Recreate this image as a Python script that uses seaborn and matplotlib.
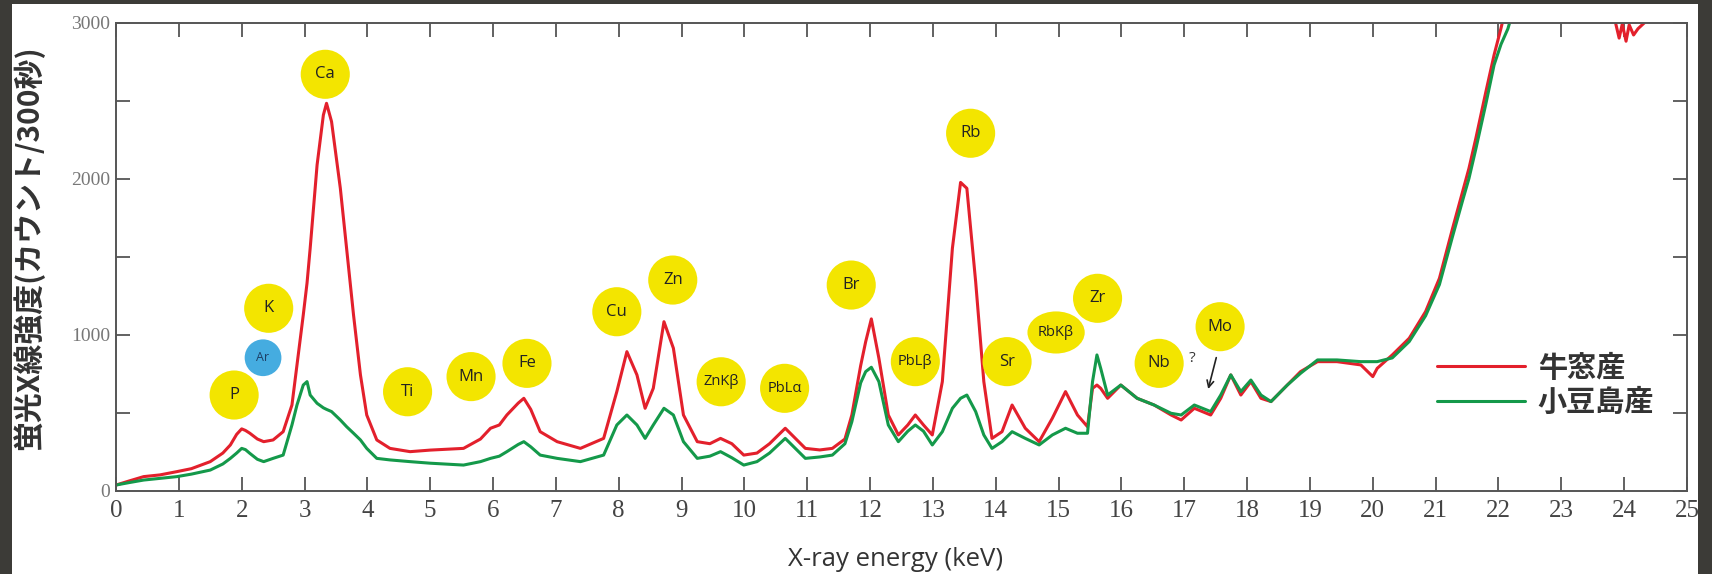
import numpy as np
import pandas as pd
import matplotlib
matplotlib.use('Agg')
import matplotlib.pyplot as plt
import seaborn as sns
from matplotlib.patches import Rectangle
from matplotlib.path import Path
from matplotlib.ticker import MultipleLocator

# ---------------------------------------------------------------
# data (keV, counts / 300 s)
# ---------------------------------------------------------------
energy = [0.00, 0.20, 0.44, 0.70, 0.97, 1.20, 1.50, 1.70, 1.82, 1.92, 2.00, 2.06, 2.13, 2.25,
          2.35, 2.50, 2.66, 2.80, 2.88, 2.98, 3.04, 3.09, 3.20, 3.30, 3.35, 3.43, 3.57, 3.67,
          3.78, 3.89, 3.99, 4.15, 4.36, 4.68, 5.00, 5.30, 5.53, 5.80, 5.96, 6.10, 6.22, 6.40,
          6.49, 6.60, 6.75, 7.02, 7.39, 7.76, 7.97, 8.13, 8.29, 8.42, 8.55, 8.72, 8.87, 9.03,
          9.25, 9.45, 9.62, 9.80, 9.99, 10.20, 10.40, 10.65, 10.97, 11.20, 11.40, 11.60, 11.71,
          11.85, 11.93, 12.02, 12.14, 12.29, 12.45, 12.60, 12.72, 12.85, 12.99, 13.15, 13.31,
          13.44, 13.54, 13.68, 13.81, 13.94, 14.10, 14.26, 14.47, 14.69, 14.90, 15.11, 15.30,
          15.46, 15.54, 15.61, 15.67, 15.78, 15.99, 16.25, 16.52, 16.79, 16.95, 17.16, 17.42,
          17.58, 17.74, 17.90, 18.06, 18.22, 18.38, 18.64, 18.85, 19.12, 19.43, 19.81, 20.00,
          20.07, 20.31, 20.58, 20.84, 21.06, 21.27, 21.43, 21.53, 21.64, 21.80, 21.93, 22.04,
          22.15, 22.25]

ushimado = [35, 60, 89, 100, 121, 140, 185, 240, 292, 360, 395, 385, 367, 330,
            313, 324, 377, 548, 805, 1125, 1330, 1553, 2087, 2407, 2482, 2365, 1937, 1553,
            1125, 741, 484, 324, 270, 249, 259, 265, 270, 330, 399, 420, 484, 560,
            591, 520, 377, 313, 270, 334, 634, 890, 741, 527, 655, 1082, 912, 484,
            313, 300, 334, 300, 227, 240, 300, 399, 270, 260, 270, 330, 484,
            800, 954, 1100, 848, 484, 356, 420, 484, 420, 356, 698, 1553,
            1975, 1937, 1339, 698, 334, 377, 548, 399, 313, 463, 634, 484,
            409, 655, 676, 655, 591, 676, 591, 548, 484, 452, 527, 484,
            591, 741, 612, 698, 591, 570, 676, 762, 826, 826, 805, 730,
            783, 869, 976, 1147, 1360, 1681, 1916, 2065, 2258, 2557, 2792, 2963,
            3150, 3300]

shodoshima = [35, 50, 67, 78, 89, 105, 131, 170, 206, 240, 270, 262, 238, 200,
              185, 206, 227, 420, 548, 676, 698, 612, 559, 530, 520, 506, 452, 409,
              367, 324, 270, 206, 196, 185, 175, 168, 163, 185, 206, 220, 249, 295,
              313, 280, 227, 206, 185, 227, 420, 484, 420, 334, 420, 527, 484, 313,
              206, 220, 249, 210, 163, 185, 240, 334, 206, 215, 227, 300, 441,
              690, 762, 790, 698, 420, 313, 380, 420, 380, 292, 377, 527,
              591, 612, 506, 356, 270, 313, 377, 334, 292, 356, 399, 367,
              367, 698, 869, 783, 612, 676, 591, 548, 495, 484, 548, 506,
              612, 741, 634, 708, 612, 570, 676, 751, 837, 837, 826, 826,
              826, 850, 955, 1120, 1320, 1630, 1860, 2000, 2190, 2480, 2728, 2860,
              2960, 3100]

# short piece of the red trace that dips back under 3000 near 24 keV
tail_energy = [23.85, 23.92, 23.97, 24.03, 24.08, 24.15, 24.22, 24.30, 24.38]
tail_counts = [3020, 2900, 2990, 2880, 2985, 2920, 2960, 2990, 3020]

series_names = ['牛窓産', '小豆島産']

# element badges
badge_labels = ['P', 'K', 'Ca', 'Ti', 'Mn', 'Fe', 'Cu', 'Zn', 'ZnKβ', 'PbLα', 'Br',
                'PbLβ', 'Rb', 'Sr', 'Zr', 'Nb', 'Mo']
badge_x = [1.88, 2.43, 3.33, 4.64, 5.65, 6.54, 7.97, 8.86, 9.63, 10.64, 11.70,
           12.72, 13.60, 14.18, 15.62, 16.60, 17.57]
badge_y = [612, 1168, 2668, 633, 730, 815, 1146, 1349, 697, 655, 1317,
           826, 2290, 826, 1232, 815, 1050]

ar_label, ar_x, ar_y = 'Ar', 2.34, 851
rbkb_label, rbkb_x, rbkb_y = 'RbKβ', 14.96, 1013

# ---------------------------------------------------------------
# figure
# ---------------------------------------------------------------
sns.set_theme(style='ticks')
plt.rcParams['font.family'] = ['Noto Sans CJK JP', 'DejaVu Sans']

RED = '#e3202c'
GREEN = '#14994a'

fig = plt.figure(figsize=(17.12, 5.74), dpi=100, facecolor='#3c3b37')
fig.patches.append(Rectangle((12 / 1712, 0), (1698 - 12) / 1712, 570 / 574,
                             transform=fig.transFigure, facecolor='white',
                             edgecolor='none', zorder=-10))
ax = fig.add_axes([116 / 1712, 83.5 / 574, 1571 / 1712, 468 / 574])
ax.set_facecolor('white')

spec = pd.DataFrame({
    'energy': energy * 2,
    'counts': ushimado + shodoshima,
    'sample': [series_names[0]] * len(energy) + [series_names[1]] * len(energy),
})

sns.lineplot(data=spec, x='energy', y='counts', hue='sample', hue_order=series_names,
             palette=[RED, GREEN], sort=False, estimator=None, linewidth=2.2, ax=ax)
sns.lineplot(x=tail_energy, y=tail_counts, color=RED, sort=False, estimator=None,
             linewidth=2.2, ax=ax, legend=False)

# badges
ax.scatter(badge_x, badge_y, s=1250, color='#f3e500', edgecolors='none', zorder=4)
ax.scatter([ar_x], [ar_y], s=700, color='#45ace0', edgecolors='none', zorder=4)
ellipse = Path(Path.unit_circle().vertices * np.array([1.36, 1.0]), Path.unit_circle().codes)
ax.scatter([rbkb_x], [rbkb_y], s=1700, marker=ellipse, color='#f3e500', edgecolors='none', zorder=4)

badge_font = ['Open Sans', 'DejaVu Sans']
for lab, bx, by in zip(badge_labels, badge_x, badge_y):
    fs = 10.5 if len(lab) > 2 else 12
    ax.text(bx, by, lab, ha='center', va='center', fontsize=fs, color='#222',
            family=badge_font, zorder=5)
ax.text(ar_x, ar_y, ar_label, ha='center', va='center', fontsize=9, color='#1d3f66',
        family=badge_font, zorder=5)
ax.text(rbkb_x, rbkb_y, rbkb_label, ha='center', va='center', fontsize=10.5, color='#222',
        family=badge_font, zorder=5)

ax.text(17.13, 847, '?', ha='center', va='center', fontsize=11, color='#333',
        family=badge_font)
ax.annotate('', xy=(17.37, 633), xytext=(17.52, 869),
            arrowprops=dict(arrowstyle='->', color='#222', lw=1.2))

# axes
ax.set_xlim(0, 25)
ax.set_ylim(0, 3000)
ax.xaxis.set_major_locator(MultipleLocator(1))
ax.yaxis.set_major_locator(MultipleLocator(1000))
ax.yaxis.set_minor_locator(MultipleLocator(500))
ax.tick_params(axis='both', which='both', direction='in', length=10, width=1.3,
               color='#555', top=True, right=True)
ax.tick_params(axis='x', pad=7, labelsize=18, labelcolor='#444')
ax.tick_params(axis='y', pad=4, labelsize=14, labelcolor='#777')
for lab in ax.get_xticklabels() + ax.get_yticklabels():
    lab.set_family('Liberation Serif')
for sp in ax.spines.values():
    sp.set_color('#555')
    sp.set_linewidth(1.4)

ax.set_xlabel('X-ray energy (keV)', fontsize=18.5, color='#333',
              family=['Open Sans', 'DejaVu Sans'], va='center')
ax.xaxis.set_label_coords(0.496, -0.148)
ax.set_ylabel('蛍光X線強度(カウント/300秒)', fontsize=21.5, color='#333', fontweight='bold',
              family=['Noto Sans CJK JP', 'DejaVu Sans'], va='center')
ax.yaxis.set_label_coords(-0.056, 0.519)

sns.move_legend(ax, loc='center left', bbox_to_anchor=(0.841, 0.226), frameon=False,
                title=None, borderpad=0, borderaxespad=0, handlelength=3.0,
                handletextpad=0.45, labelspacing=0.15, labelcolor='#333',
                prop={'family': ['Noto Sans CJK JP'], 'size': 21, 'weight': 'bold'})

fig.savefig('out.png', dpi=100, facecolor=fig.get_facecolor())
